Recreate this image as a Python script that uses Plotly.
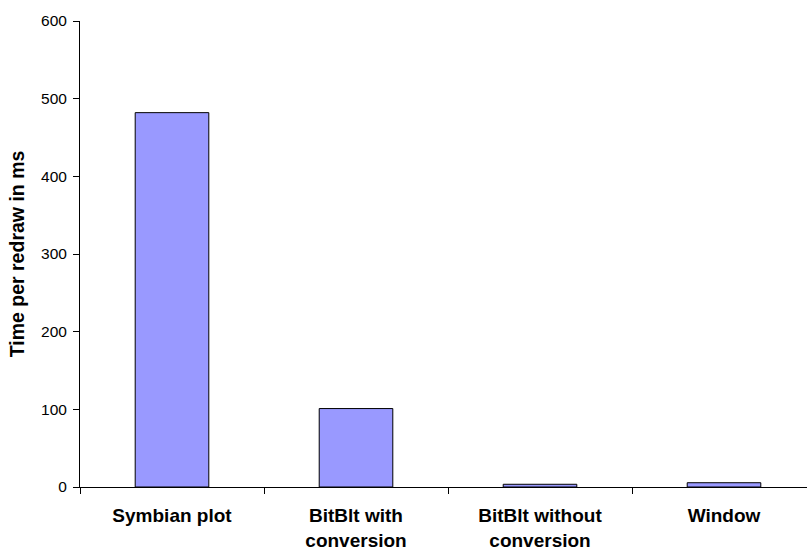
import plotly.graph_objects as go

# Redraw timings for each rendering approach
categories = ["Symbian plot", "BitBlt with<br>conversion", "BitBlt without<br>conversion", "Window"]
redraw_ms = [482, 101, 3.5, 5.5]
y_ticks = [0, 100, 200, 300, 400, 500, 600]

FONT = "Liberation Sans, Arial, sans-serif"

fig = go.Figure(
    go.Bar(
        x=categories,
        y=redraw_ms,
        width=0.4,
        marker=dict(color="#9999FF", line=dict(color="#000000", width=1)),
    )
)

fig.update_layout(
    width=807,
    height=550,
    margin=dict(l=80, r=0, t=21, b=63),
    paper_bgcolor="white",
    plot_bgcolor="white",
    showlegend=False,
    font=dict(family=FONT, color="#000000"),
)

fig.update_xaxes(
    type="category",
    range=[-0.5, 3.451],
    showline=True,
    linecolor="#000000",
    linewidth=1,
    ticks="outside",
    tickson="boundaries",
    ticklen=6,
    tickcolor="#000000",
    ticklabelstandoff=11,
    showgrid=False,
    zeroline=False,
    tickfont=dict(family=FONT, size=19, color="#000000", weight="bold"),
)

fig.update_yaxes(
    range=[0, 600],
    tickvals=y_ticks,
    showline=True,
    linecolor="#000000",
    linewidth=1,
    ticks="outside",
    ticklen=6,
    tickcolor="#000000",
    ticklabelstandoff=3,
    showgrid=False,
    zeroline=False,
    tickfont=dict(family=FONT, size=15.5, color="#000000"),
    title=dict(
        text="<b>Time per redraw in ms</b>",
        font=dict(family=FONT, size=19.5, color="#000000"),
        standoff=11,
    ),
)

fig.write_html("out.html")
